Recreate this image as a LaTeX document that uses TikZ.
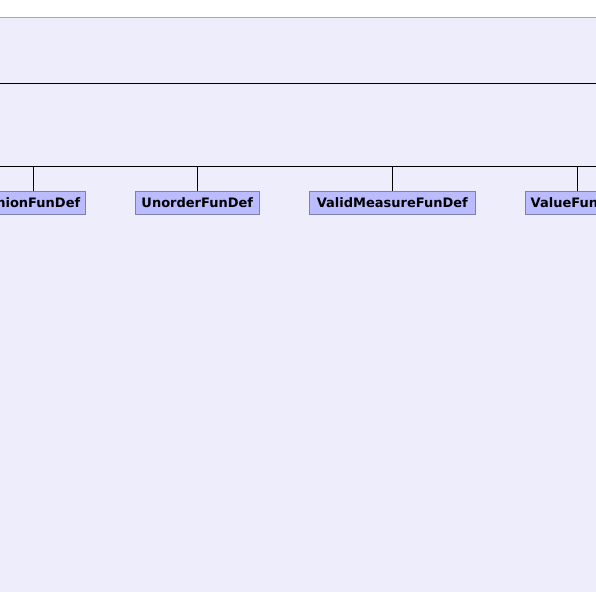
\documentclass[tikz,border=0pt]{standalone}
\usepackage{fontspec}
\setmainfont{DejaVu Sans}
\definecolor{bgl}{RGB}{238,237,252}
\definecolor{topline}{RGB}{168,168,176}
\definecolor{boxfill}{RGB}{187,187,255}
\definecolor{boxdraw}{RGB}{128,128,176}
\tikzset{
  funbox/.style={draw=boxdraw, fill=boxfill, line width=1bp, minimum height=23bp,
    inner sep=0pt, font=\fontsize{13bp}{15bp}\selectfont\bfseries, text=black, anchor=center},
  conn/.style={draw=black, line width=1bp}
}
\begin{document}
\begin{tikzpicture}[x=1bp,y=-1bp]
\useasboundingbox (0,0) rectangle (596,592);
\clip (0,0) rectangle (596,592);
\fill[white] (0,0) rectangle (596,592);
\fill[bgl] (-1,17) rectangle (597,593);
\draw[topline, line width=1bp] (-1,17.5) -- (597,17.5);
\coordinate (mL) at (-1,83.5);
\coordinate (mR) at (597,83.5);
\draw[conn] (mL) -- (mR);
\coordinate (busL) at (-1,166.5);
\coordinate (busR) at (597,166.5);
\draw[conn] (busL) -- (busR);
\node[funbox, minimum width=105bp] (b1) at (33,202.8) {UnionFunDef};
\node[funbox, minimum width=124bp] (b2) at (197.3,202.8) {UnorderFunDef};
\node[funbox, minimum width=166bp] (b3) at (392.3,202.8) {ValidMeasureFunDef};
\node[funbox, minimum width=103.4bp] (b4) at (577,202.8) {ValueFunDef};
\foreach \b in {b1,b2,b3,b4}{
  \draw[conn] (\b.north) -- (\b.north |- busL);
}
\end{tikzpicture}
\end{document}
